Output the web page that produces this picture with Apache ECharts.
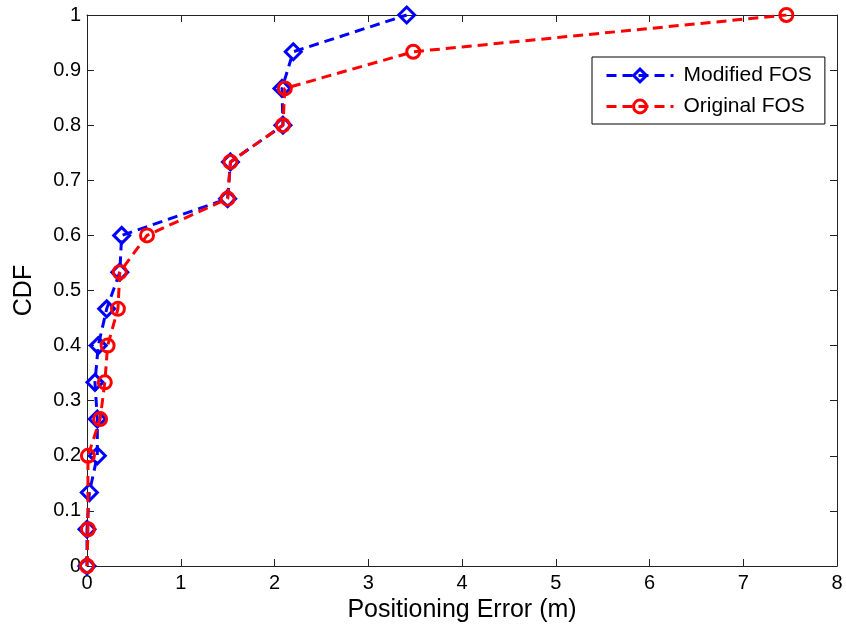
<!DOCTYPE html>
<html>
<head>
<meta charset="utf-8">
<script src="https://cdn.jsdelivr.net/npm/echarts@6/dist/echarts.min.js"></script>
<style>html,body{margin:0;padding:0;background:#fff;}#c{width:846px;height:635px;}</style>
</head>
<body>
<div id="c"></div>
<script>
// Data
const xTicks = [0, 1, 2, 3, 4, 5, 6, 7, 8];
const yTicks = [0, 0.1, 0.2, 0.3, 0.4, 0.5, 0.6, 0.7, 0.8, 0.9, 1];

const modifiedCdf = [0, 0.0667, 0.1333, 0.2, 0.2667, 0.3333, 0.4, 0.4667, 0.5333, 0.6, 0.6667, 0.7333, 0.8, 0.8667, 0.9333, 1.0];
const modifiedErr = [0, 0.0, 0.025, 0.11, 0.11, 0.085, 0.12, 0.21, 0.35, 0.37, 1.50, 1.53, 2.09, 2.08, 2.20, 3.41];

const originalCdf = [0, 0.0667, 0.2, 0.2667, 0.3333, 0.4, 0.4667, 0.5333, 0.6, 0.6667, 0.7333, 0.8, 0.8667, 0.9333, 1.0];
const originalErr = [0, 0.01, 0.01, 0.14, 0.19, 0.22, 0.33, 0.35, 0.64, 1.50, 1.53, 2.09, 2.11, 3.48, 7.46];

const seriesNames = ['Modified FOS', 'Original FOS'];

const zip = (xs, ys) => xs.map((x, i) => [x, ys[i]]);

const FONT = '"Liberation Sans", Arial, sans-serif';
const chart = echarts.init(document.getElementById('c'), null, {renderer: 'canvas'});

const axisCommon = {
  type: 'value',
  axisLine: {show: true, onZero: false, lineStyle: {color: '#222', width: 1}},
  axisTick: {show: true, inside: true, length: 7, lineStyle: {color: '#222', width: 1}},
  splitLine: {show: false}
};

chart.setOption({
  backgroundColor: '#fff',
  animation: false,
  grid: {left: 87, right: 9, top: 15, bottom: 69, containLabel: false},
  legend: {
    data: seriesNames,
    orient: 'vertical',
    left: 592,
    top: 57,
    backgroundColor: '#fff',
    borderColor: '#000',
    borderWidth: 1,
    padding: [8, 13, 7, 13],
    itemGap: 10,
    itemWidth: 67,
    itemHeight: 16,
    lineStyle: {width: 3},
    itemStyle: {borderWidth: 3},
    textStyle: {fontFamily: FONT, fontSize: 21, color: '#000', lineHeight: 21, padding: [0, 0, 0, 5]}
  },
  xAxis: [
    Object.assign({}, axisCommon, {
      position: 'bottom', min: xTicks[0], max: xTicks[xTicks.length - 1], interval: 1,
      axisLabel: {show: true, color: '#000', fontFamily: FONT, fontSize: 20, margin: 7},
      name: 'Positioning Error (m)', nameLocation: 'middle', nameGap: 28,
      nameTextStyle: {fontFamily: FONT, fontSize: 25, color: '#000'}
    }),
    Object.assign({}, axisCommon, {
      position: 'top', min: xTicks[0], max: xTicks[xTicks.length - 1], interval: 1,
      axisLabel: {show: false}
    })
  ],
  yAxis: [
    Object.assign({}, axisCommon, {
      position: 'left', min: yTicks[0], max: yTicks[yTicks.length - 1], interval: 0.1,
      axisLabel: {show: true, color: '#000', fontFamily: FONT, fontSize: 20, margin: 6,
        formatter: v => String(Math.round(v * 10) / 10)},
      name: 'CDF', nameLocation: 'middle', nameGap: 50,
      nameTextStyle: {fontFamily: FONT, fontSize: 25, color: '#000'}
    }),
    Object.assign({}, axisCommon, {
      position: 'right', min: yTicks[0], max: yTicks[yTicks.length - 1], interval: 0.1,
      axisLabel: {show: false}
    })
  ],
  series: [
    {
      name: seriesNames[0], type: 'line', xAxisIndex: 0, yAxisIndex: 0,
      data: zip(modifiedErr, modifiedCdf),
      symbol: 'diamond', symbolSize: 16,
      lineStyle: {color: '#0000ff', width: 3, type: [10, 6]},
      itemStyle: {color: 'rgba(255,255,255,0)', borderColor: '#0000ff', borderWidth: 3},
      emphasis: {disabled: true}, z: 2
    },
    {
      name: seriesNames[1], type: 'line', xAxisIndex: 0, yAxisIndex: 0,
      data: zip(originalErr, originalCdf),
      symbol: 'circle', symbolSize: 13,
      lineStyle: {color: '#ff0000', width: 3, type: [10, 6]},
      itemStyle: {color: 'rgba(255,255,255,0)', borderColor: '#ff0000', borderWidth: 3},
      emphasis: {disabled: true}, z: 3
    }
  ]
});
</script>
</body>
</html>
